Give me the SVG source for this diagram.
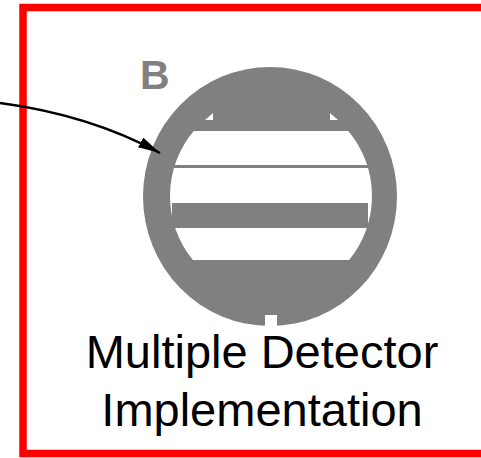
<svg xmlns="http://www.w3.org/2000/svg" width="481" height="458" viewBox="0 0 481 458">
  <style>
    .frame { fill: none; stroke: #ff0000; stroke-width: 7.5; }
    .metal { fill: #808080; }
    .open { fill: #ffffff; }
    .caption { font-family: "Liberation Sans", Arial, sans-serif; font-size: 47px; fill: #000000; text-anchor: middle; }
    .tag { font-family: "Liberation Sans", Arial, sans-serif; font-size: 41px; font-weight: bold; fill: #808080; }
    .leader { fill: none; stroke: #000000; stroke-width: 2.5; }
  </style>
  <defs>
    <marker id="arrowhead" markerUnits="userSpaceOnUse" markerWidth="24" markerHeight="12" refX="22" refY="5.5" orient="auto">
      <path d="M0,0 L22,5.5 L0,11 Z" fill="#000000"/>
    </marker>
  </defs>

  <rect width="481" height="458" fill="#ffffff"/>

  <!-- outer frame, right side runs off the page -->
  <g id="frame">
    <rect class="frame" x="23" y="7.5" width="470" height="446"/>
  </g>

  <!-- detector disc with its window, strip and thick bar -->
  <g id="detector">
    <ellipse class="metal" cx="270" cy="196.5" rx="127" ry="129.5"/>
    <path class="open" d="M193.7,131 H348.3 A101,101 0 0 1 349.1,260 H192.9 A101,101 0 0 1 193.7,131 Z"/>
    <rect class="metal" x="170" y="165" width="202" height="3"/>
    <rect class="metal" x="172" y="203" width="196" height="25"/>
    <polygon class="open" points="205,120 213,120 213,113"/>
    <polygon class="open" points="330,113 330,120 338,120"/>
    <rect class="open" x="265" y="315" width="12" height="13"/>
  </g>

  <g id="label-b">
    <text class="tag" x="140" y="89">B</text>
  </g>

  <g id="caption">
    <text class="caption" x="262" y="368">Multiple Detector</text>
    <text class="caption" x="262" y="426">Implementation</text>
  </g>

  <g id="connectors">
    <path class="leader" d="M0,103 Q90,115 160,153" marker-end="url(#arrowhead)"/>
  </g>
</svg>
